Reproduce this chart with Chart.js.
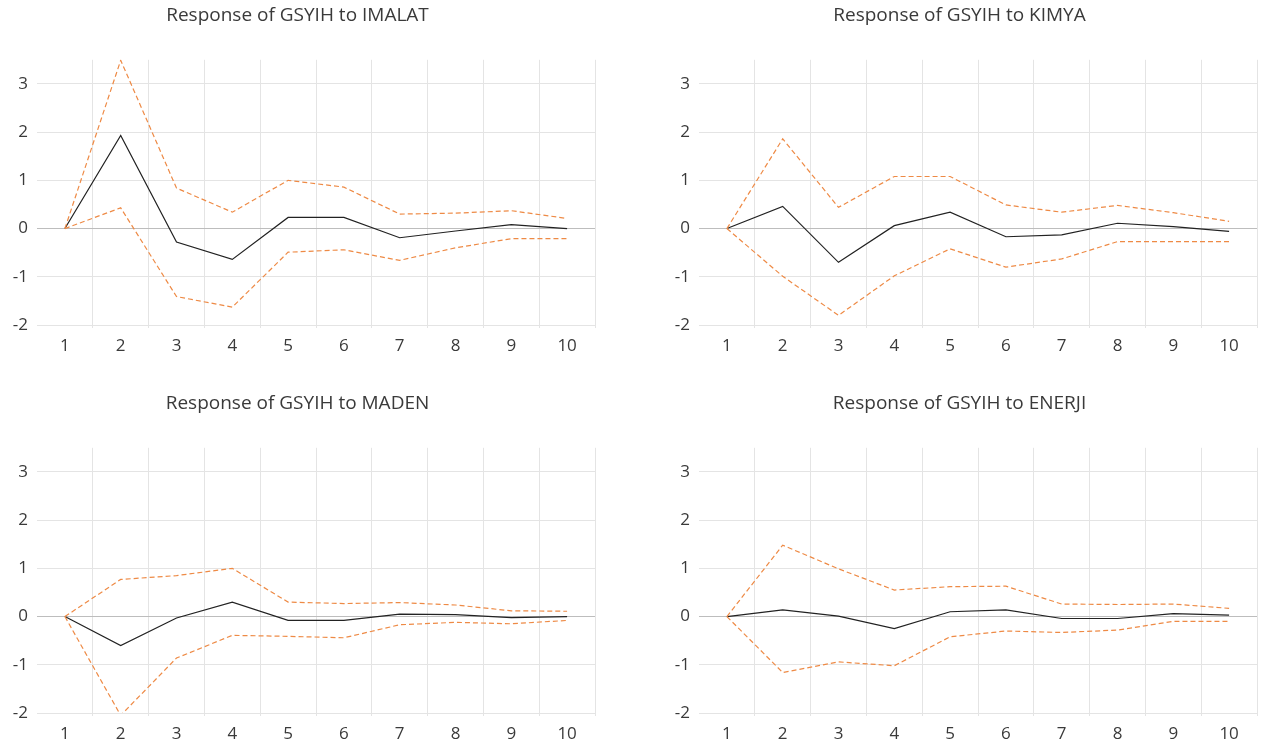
<!DOCTYPE html>
<html>
<head>
<meta charset="utf-8">
<script src="https://cdn.jsdelivr.net/npm/chart.js@4"></script>
<style>
  body { margin: 0; background: #fff; }
  .box { position: absolute; }
</style>
</head>
<body>
<div class="box" style="left:0;top:0;width:601px;height:361px"><canvas id="c1"></canvas></div>
<div class="box" style="left:662px;top:0;width:601px;height:361px"><canvas id="c2"></canvas></div>
<div class="box" style="left:0;top:388px;width:601px;height:361px"><canvas id="c3"></canvas></div>
<div class="box" style="left:662px;top:388px;width:601px;height:361px"><canvas id="c4"></canvas></div>
<script>
// periods
var periods = ['1', '2', '3', '4', '5', '6', '7', '8', '9', '10'];
var yTicks = [-2, -1, 0, 1, 2, 3];

// response of GSYIH to IMALAT
var imalatResp  = [0, 1.93, -0.28, -0.64, 0.23, 0.23, -0.19, -0.05, 0.08, 0.0];
var imalatUpper = [0, 3.49, 0.84, 0.34, 1.0, 0.86, 0.30, 0.32, 0.37, 0.21];
var imalatLower = [0, 0.43, -1.41, -1.63, -0.49, -0.44, -0.66, -0.40, -0.21, -0.21];

// response of GSYIH to KIMYA
var kimyaResp  = [0, 0.46, -0.70, 0.06, 0.34, -0.17, -0.13, 0.11, 0.04, -0.06];
var kimyaUpper = [0, 1.86, 0.44, 1.08, 1.08, 0.49, 0.34, 0.48, 0.33, 0.15];
var kimyaLower = [0, -0.99, -1.80, -0.98, -0.42, -0.80, -0.63, -0.27, -0.27, -0.27];

// response of GSYIH to MADEN
var madenResp  = [0, -0.60, -0.03, 0.30, -0.08, -0.08, 0.05, 0.04, -0.02, 0.0];
var madenUpper = [0, 0.77, 0.85, 1.0, 0.30, 0.27, 0.29, 0.24, 0.12, 0.11];
var madenLower = [0, -2.05, -0.86, -0.39, -0.41, -0.44, -0.17, -0.12, -0.15, -0.08];

// response of GSYIH to ENERJI
var enerjiResp  = [0, 0.14, 0.01, -0.25, 0.10, 0.14, -0.04, -0.04, 0.06, 0.03];
var enerjiUpper = [0, 1.48, 0.99, 0.55, 0.62, 0.63, 0.26, 0.25, 0.26, 0.17];
var enerjiLower = [0, -1.16, -0.94, -1.02, -0.42, -0.30, -0.33, -0.28, -0.10, -0.10];

var textColor = '#3a3a3a';
var fontName = "'Open Sans', sans-serif";

function drawPanel(id, title, resp, upper, lower) {
  var bandStyle = {
    borderColor: '#EE8A45',
    borderWidth: 1.2,
    borderDash: [5, 3],
    pointRadius: 0,
    fill: false,
    tension: 0
  };
  new Chart(document.getElementById(id), {
    type: 'line',
    data: {
      labels: periods,
      datasets: [
        Object.assign({ label: 'upper', data: upper }, bandStyle),
        Object.assign({ label: 'lower', data: lower }, bandStyle),
        { label: 'response', data: resp, borderColor: '#222222', borderWidth: 1.2,
          pointRadius: 0, fill: false, tension: 0 }
      ]
    },
    options: {
      responsive: true,
      maintainAspectRatio: false,
      animation: false,
      layout: { padding: { right: 6 } },
      plugins: {
        legend: { display: false },
        tooltip: { enabled: false },
        title: {
          display: true,
          text: title,
          color: textColor,
          font: { family: fontName, size: 19, weight: 'normal' },
          padding: { top: 4, bottom: 33 }
        }
      },
      scales: {
        x: {
          offset: true,
          grid: {
            offset: true,
            tickLength: 3,
            color: function (c) {
              return (c.index === 0 || c.index >= periods.length) ? 'rgba(0,0,0,0)' : '#e4e4e4';
            }
          },
          border: { display: false },
          ticks: { color: textColor, padding: 8, font: { family: fontName, size: 17 } },
          afterFit: function (s) { s.height = 36; }
        },
        y: {
          min: -2,
          max: 3.5,
          grid: {
            drawTicks: false,
            color: function (c) { return c.tick && c.tick.value === 0 ? '#bdbdbd' : '#e4e4e4'; }
          },
          border: { display: false },
          afterBuildTicks: function (s) {
            s.ticks = yTicks.map(function (v) { return { value: v }; });
          },
          ticks: { color: textColor, padding: 9, font: { family: fontName, size: 17 } },
          afterFit: function (s) { s.width = 37; }
        }
      }
    }
  });
}

drawPanel('c1', 'Response of GSYIH to IMALAT', imalatResp, imalatUpper, imalatLower);
drawPanel('c2', 'Response of GSYIH to KIMYA', kimyaResp, kimyaUpper, kimyaLower);
drawPanel('c3', 'Response of GSYIH to MADEN', madenResp, madenUpper, madenLower);
drawPanel('c4', 'Response of GSYIH to ENERJI', enerjiResp, enerjiUpper, enerjiLower);
</script>
</body>
</html>
